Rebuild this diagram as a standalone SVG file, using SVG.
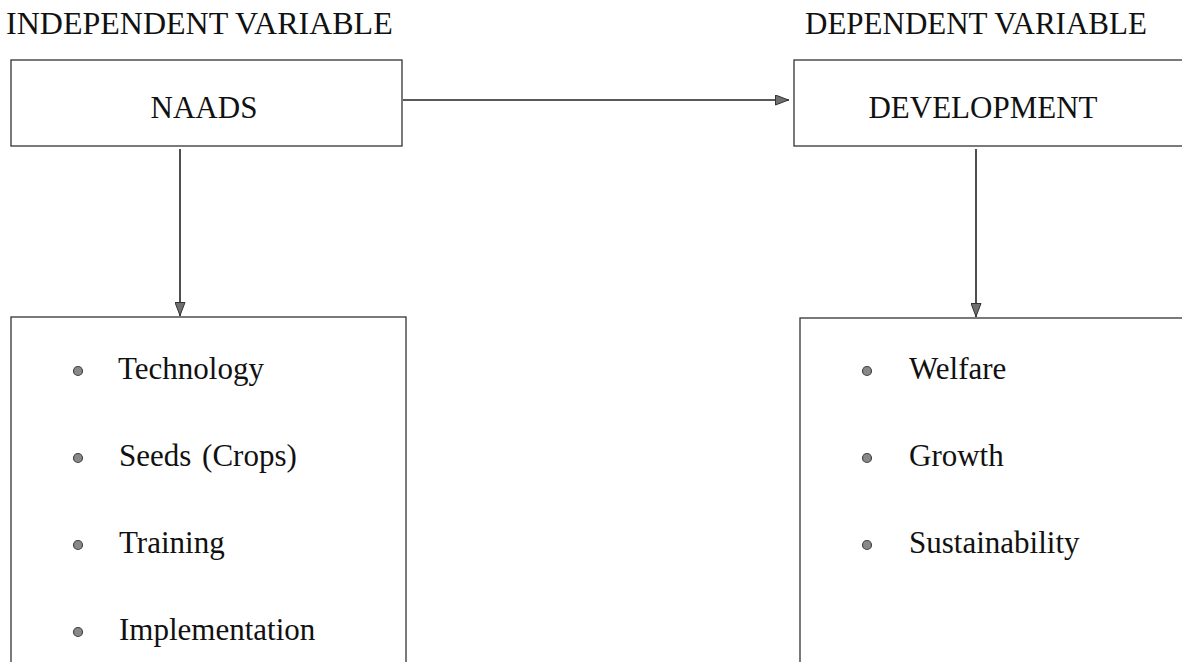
<svg xmlns="http://www.w3.org/2000/svg" width="1182" height="662" viewBox="0 0 1182 662">
<style>
.t{font-family:"Liberation Serif","Times New Roman",serif;font-size:31px;fill:#111}
.box{fill:#fff;stroke:#333;stroke-width:1.3}
.ln{stroke:#222;stroke-width:1.6;fill:none}
.dot{fill:#888;stroke:#444;stroke-width:1.2}
</style>
<defs>
<marker id="ah" viewBox="0 0 14 11" refX="14" refY="5.5" markerWidth="14" markerHeight="11" markerUnits="userSpaceOnUse" orient="auto">
<path d="M0.5,0.5 L13.5,5.5 L0.5,10.5 Z" fill="#6f6f6f" stroke="#333" stroke-width="1"/>
</marker>
</defs>
<rect width="1182" height="662" fill="#fff"/>
<text class="t" x="6" y="34" style="font-size:32px">INDEPENDENT VARIABLE</text>
<text class="t" x="805" y="34">DEPENDENT VARIABLE</text>
<g id="connectors">
<line class="ln" x1="403" y1="100" x2="789" y2="100" marker-end="url(#ah)"/>
<line class="ln" x1="180" y1="149" x2="180" y2="316" marker-end="url(#ah)"/>
<line class="ln" x1="976" y1="149" x2="976" y2="317" marker-end="url(#ah)"/>
</g>
<g id="naads">
<rect class="box" x="11" y="60" width="391" height="86"/>
<text class="t" x="204" y="118" text-anchor="middle">NAADS</text>
</g>
<g id="development">
<rect class="box" x="794" y="60" width="400" height="86"/>
<text class="t" x="983" y="118" text-anchor="middle">DEVELOPMENT</text>
</g>
<g id="naads-items">
<rect class="box" x="11" y="317" width="395" height="360"/>
<circle class="dot" cx="78" cy="371" r="4.5"/>
<text class="t" x="118" y="379">Technology</text>
<circle class="dot" cx="78" cy="458" r="4.5"/>
<text class="t" x="119" y="466" word-spacing="3">Seeds (Crops)</text>
<circle class="dot" cx="78" cy="545" r="4.5"/>
<text class="t" x="119" y="553">Training</text>
<circle class="dot" cx="78" cy="632" r="4.5"/>
<text class="t" x="119" y="640">Implementation</text>
</g>
<g id="development-items">
<rect class="box" x="800" y="318" width="400" height="360"/>
<circle class="dot" cx="867" cy="371" r="4.5"/>
<text class="t" x="909" y="379">Welfare</text>
<circle class="dot" cx="867" cy="458" r="4.5"/>
<text class="t" x="909" y="466">Growth</text>
<circle class="dot" cx="867" cy="545" r="4.5"/>
<text class="t" x="909" y="553">Sustainability</text>
</g>
</svg>
